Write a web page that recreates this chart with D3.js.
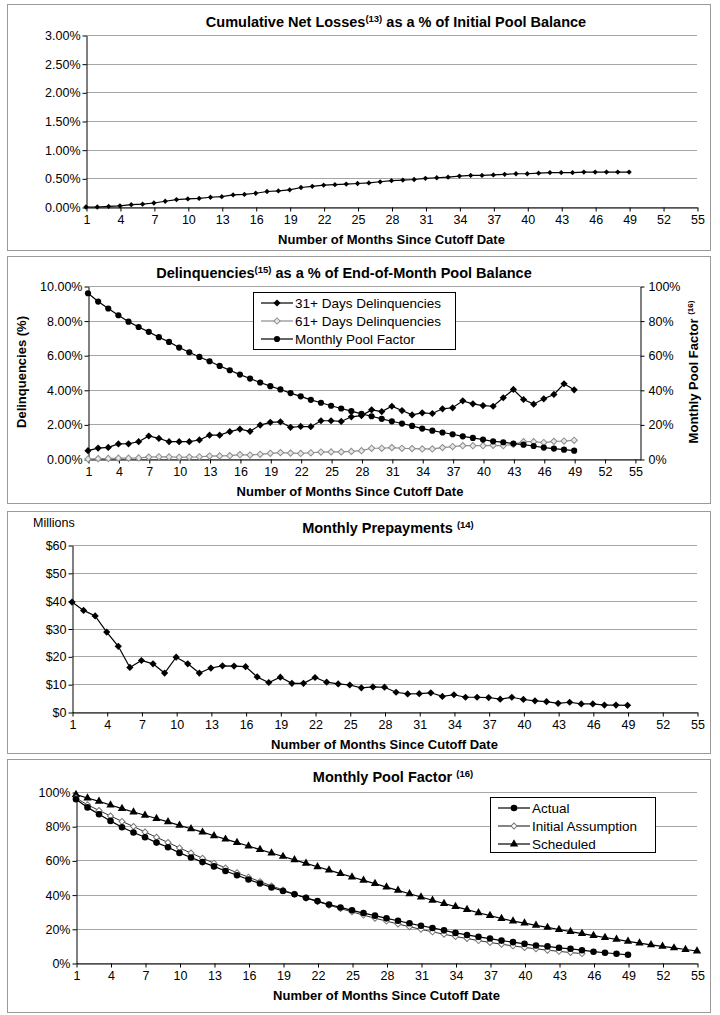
<!DOCTYPE html>
<html>
<head>
<meta charset="utf-8">
<script src="https://cdn.jsdelivr.net/npm/d3@7"></script>
<style>
  body { margin: 0; background: #fff; }
  text { font-family: "Liberation Sans", Arial, sans-serif; fill: #000; }
</style>
</head>
<body>
<div id="chart"></div>
<script>
// x axis labels (months since cutoff)
var xTicks = [1, 4, 7, 10, 13, 16, 19, 22, 25, 28, 31, 34, 37, 40, 43, 46, 49, 52, 55];

// cumulative net losses, % of initial pool balance (months 1-49)
var netLosses = [0.00, 0.00, 0.01, 0.02, 0.04, 0.05, 0.07, 0.10, 0.13, 0.14,
  0.15, 0.17, 0.18, 0.21, 0.22, 0.24, 0.27, 0.28, 0.30, 0.34,
  0.36, 0.38, 0.39, 0.40, 0.41, 0.42, 0.44, 0.46, 0.47, 0.48,
  0.50, 0.51, 0.52, 0.54, 0.55, 0.55, 0.56, 0.57, 0.58, 0.58,
  0.59, 0.60, 0.60, 0.60, 0.61, 0.61, 0.61, 0.61, 0.61];

// delinquencies, % of end-of-month pool balance (months 1-49)
var delinq31 = [0.48, 0.63, 0.67, 0.87, 0.88, 1.00, 1.33, 1.19, 1.00, 1.00,
  1.00, 1.10, 1.38, 1.38, 1.58, 1.73, 1.60, 1.96, 2.12, 2.15,
  1.83, 1.88, 1.87, 2.21, 2.21, 2.17, 2.44, 2.51, 2.84, 2.74,
  3.05, 2.80, 2.55, 2.67, 2.63, 2.90, 2.96, 3.36, 3.19, 3.09,
  3.05, 3.54, 4.02, 3.44, 3.17, 3.48, 3.73, 4.35, 4.00];
var delinq61 = [0.00, 0.02, 0.03, 0.05, 0.05, 0.06, 0.11, 0.13, 0.12, 0.10,
  0.11, 0.13, 0.17, 0.18, 0.19, 0.25, 0.23, 0.27, 0.33, 0.37,
  0.34, 0.32, 0.36, 0.40, 0.41, 0.41, 0.44, 0.48, 0.62, 0.62,
  0.66, 0.62, 0.60, 0.58, 0.58, 0.66, 0.72, 0.77, 0.77, 0.77,
  0.79, 0.77, 0.85, 1.00, 1.00, 0.95, 1.02, 1.04, 1.08];

// monthly pool factor, % (months 1-49)
var poolFactor = [95.8, 91.0, 87.0, 83.1, 79.4, 76.3, 73.5, 70.4, 67.7, 64.4,
  61.7, 59.0, 56.5, 53.8, 51.3, 48.8, 46.5, 44.2, 42.1, 40.2,
  38.1, 36.2, 34.2, 32.5, 30.8, 29.2, 27.7, 26.1, 24.7, 23.2,
  21.8, 20.5, 19.1, 17.6, 16.4, 15.3, 14.3, 13.1, 12.2, 11.2,
  10.2, 9.7, 8.9, 8.3, 7.5, 6.6, 6.0, 5.4, 4.8];

// monthly prepayments, $ millions (months 1-49)
var prepayments = [39.5, 36.5, 34.5, 28.7, 23.6, 16.0, 18.5, 17.3, 14.0, 19.7,
  17.3, 14.0, 15.8, 16.6, 16.5, 16.3, 12.6, 10.6, 12.5, 10.3,
  10.3, 12.4, 10.7, 10.1, 9.7, 8.7, 9.0, 8.9, 7.1, 6.5,
  6.6, 6.9, 5.6, 6.2, 5.3, 5.3, 5.2, 4.6, 5.3, 4.5,
  4.0, 3.7, 3.1, 3.5, 2.9, 2.9, 2.5, 2.5, 2.4];

// pool factor assumptions, % (initial: months 1-45, scheduled: months 1-55)
var initialAssumption = [96.5, 92.5, 89.2, 86.0, 82.8, 79.8, 76.6, 73.5, 70.5, 67.3,
  64.3, 61.3, 58.4, 55.6, 52.8, 50.2, 47.6, 45.1, 42.7, 40.3,
  38.0, 35.9, 33.8, 31.8, 29.9, 28.0, 26.2, 24.5, 22.8, 21.2,
  19.7, 18.2, 16.8, 15.5, 14.3, 13.1, 12.0, 11.0, 10.0, 9.1,
  8.3, 7.5, 6.8, 6.1, 5.5];
var scheduled = [98.5, 96.5, 94.5, 92.4, 90.3, 88.3, 86.4, 84.5, 82.5, 80.5,
  78.5, 76.5, 74.4, 72.4, 70.4, 68.4, 66.3, 64.3, 62.3, 60.3,
  58.3, 56.3, 54.3, 52.3, 50.3, 48.3, 46.4, 44.4, 42.5, 40.5,
  38.6, 36.7, 34.8, 33.0, 31.2, 29.4, 27.7, 26.0, 24.5, 23.3,
  22.0, 20.8, 19.6, 18.4, 17.2, 16.0, 14.9, 13.8, 12.7, 11.6,
  10.6, 9.7, 8.8, 7.9, 7.0];

var svg = d3.select("#chart")
  .append("svg")
    .attr("width", 720)
    .attr("height", 1015);

var gridColor = "#a6a6a6";

// marker shapes
function diamond(size) { return d3.symbol().type(d3.symbolSquare).size(size)(); }
function circle(size) { return d3.symbol().type(d3.symbolCircle).size(size)(); }
function triangle(size) { return d3.symbol().type(d3.symbolTriangle).size(size)(); }

function titleText(g, x, y, main, sup, rest, size) {
  var t = g.append("text")
    .attr("x", x).attr("y", y)
    .attr("text-anchor", "middle")
    .style("font-size", size + "px")
    .style("font-weight", "bold");
  t.append("tspan").text(main);
  t.append("tspan").attr("dy", -5).style("font-size", (size - 5) + "px").text(sup);
  t.append("tspan").attr("dy", 5).text(rest);
  return t;
}

function drawPanel(o) {
  var g = svg.append("g");

  // panel frame
  g.append("rect")
    .attr("x", o.box[0] + 0.5).attr("y", o.box[1] + 0.5)
    .attr("width", o.box[2]).attr("height", o.box[3])
    .attr("fill", "none").attr("stroke", "#9a9a9a");

  var x = d3.scaleLinear().domain([1, o.xMax]).range([o.left, o.right]);
  var y = d3.scaleLinear().domain(o.yDomain).range([o.bottom, o.top]);

  // gridlines
  g.selectAll(".grid")
    .data(o.yTicks)
    .enter()
    .append("line")
      .attr("x1", o.left).attr("x2", o.right)
      .attr("y1", function(d) { return Math.round(y(d)) + 0.5; })
      .attr("y2", function(d) { return Math.round(y(d)) + 0.5; })
      .attr("stroke", gridColor);

  // left axis
  var yAxis = g.append("g")
    .attr("transform", "translate(" + (o.left + 0.5) + ",0.5)")
    .call(d3.axisLeft(y).tickValues(o.yTicks).tickFormat(o.yFormat).tickSize(4).tickSizeOuter(0));
  yAxis.selectAll("text").style("font-size", "12.5px").attr("x", -6);

  // bottom axis
  var xAxis = g.append("g")
    .attr("transform", "translate(0.5," + (o.bottom + 0.5) + ")")
    .call(d3.axisBottom(x).tickValues(xTicks).tickFormat(d3.format("d")).tickSize(4).tickSizeOuter(0));
  xAxis.selectAll("text").style("font-size", "12.5px").attr("y", 8);
  g.selectAll(".domain").attr("stroke", "#000");

  // axis title
  g.append("text")
    .attr("x", (o.left + o.right) / 2 + (o.xTitleShift || 0))
    .attr("y", o.bottom + 37)
    .attr("text-anchor", "middle")
    .style("font-size", "13px")
    .style("font-weight", "bold")
    .text("Number of Months Since Cutoff Date");

  return {g: g, x: x, y: y};
}

function drawSeries(p, yScale, values, st) {
  var line = d3.line()
    .x(function(d, i) { return p.x(i + 1); })
    .y(function(d) { return yScale(d); });
  p.g.append("path")
    .datum(values)
    .attr("fill", "none")
    .attr("stroke", st.stroke)
    .attr("stroke-width", st.width || 1.2)
    .attr("d", line);
  p.g.selectAll(null)
    .data(values)
    .enter()
    .append("path")
      .attr("transform", function(d, i) {
        return "translate(" + p.x(i + 1) + "," + yScale(d) + ")" + (st.rotate ? "rotate(45)" : "");
      })
      .attr("d", st.shape)
      .attr("fill", st.fill)
      .attr("stroke", st.markStroke || "none")
      .attr("stroke-width", 1);
}

function drawLegend(g, bx, by, bw, bh, items) {
  g.append("rect")
    .attr("x", bx + 0.5).attr("y", by + 0.5)
    .attr("width", bw).attr("height", bh)
    .attr("fill", "#fff").attr("stroke", "#000");
  items.forEach(function(it, i) {
    var cy = by + 11 + i * 18;
    g.append("line")
      .attr("x1", bx + 8).attr("x2", bx + 40)
      .attr("y1", cy).attr("y2", cy)
      .attr("stroke", it.st.stroke).attr("stroke-width", 1.2);
    g.append("path")
      .attr("transform", "translate(" + (bx + 24) + "," + cy + ")" + (it.st.rotate ? "rotate(45)" : ""))
      .attr("d", it.st.shape)
      .attr("fill", it.st.fill)
      .attr("stroke", it.st.markStroke || "none");
    g.append("text")
      .attr("x", bx + 42).attr("y", cy)
      .attr("dy", "0.36em")
      .style("font-size", "13.5px")
      .text(it.label);
  });
}

var pctFmt = function(d) { return d3.format(".2f")(d) + "%"; };
var intPct = function(d) { return d + "%"; };

// ---- Panel 1: cumulative net losses
var p1 = drawPanel({
  box: [7, 4, 703, 246], left: 86, right: 697, top: 35, bottom: 207,
  xMax: 55, yDomain: [0, 3], yTicks: [0, 0.5, 1, 1.5, 2, 2.5, 3], yFormat: pctFmt
});
titleText(p1.g, 396, 27, "Cumulative Net Losses", "(13)", " as a % of Initial Pool Balance", 14.5);
drawSeries(p1, p1.y, netLosses, {stroke: "#000", shape: diamond(14), fill: "#000", rotate: true});

// ---- Panel 2: delinquencies + pool factor
var p2 = drawPanel({
  box: [7, 256, 703, 247], left: 88, right: 640, top: 286, bottom: 459,
  xMax: 55.5, yDomain: [0, 10], yTicks: [0, 2, 4, 6, 8, 10], yFormat: pctFmt, xTitleShift: -14
});
var yRight = d3.scaleLinear().domain([0, 100]).range([459, 286]);
var rAxis = p2.g.append("g")
  .attr("transform", "translate(640.5,0.5)")
  .call(d3.axisRight(yRight).tickValues([0, 20, 40, 60, 80, 100]).tickFormat(intPct).tickSize(4).tickSizeOuter(0));
rAxis.selectAll("text").style("font-size", "12.5px").attr("x", 8);
rAxis.select(".domain").attr("stroke", "#000");
titleText(p2.g, 344, 278, "Delinquencies", "(15)", " as a % of End-of-Month Pool Balance", 14.5);
p2.g.append("text")
  .attr("transform", "translate(26,372)rotate(-90)")
  .attr("text-anchor", "middle")
  .style("font-size", "13px").style("font-weight", "bold")
  .text("Delinquencies (%)");
var rt = p2.g.append("text")
  .attr("transform", "translate(698,372)rotate(-90)")
  .attr("text-anchor", "middle")
  .style("font-size", "13px").style("font-weight", "bold");
rt.append("tspan").text("Monthly Pool Factor ");
rt.append("tspan").attr("dy", -5).style("font-size", "8px").text("(16)");

var st31 = {stroke: "#000", shape: diamond(26), fill: "#000", rotate: true};
var st61 = {stroke: "#8c8c8c", shape: diamond(20), fill: "#e6e6e6", markStroke: "#8c8c8c", rotate: true};
var stPF = {stroke: "#000", shape: circle(30), fill: "#000"};
drawSeries(p2, p2.y, delinq61, st61);
drawSeries(p2, yRight, poolFactor, stPF);
drawSeries(p2, p2.y, delinq31, st31);
drawLegend(p2.g, 253, 292, 202, 57, [
  {label: "31+ Days Delinquencies", st: st31},
  {label: "61+ Days Delinquencies", st: st61},
  {label: "Monthly Pool Factor", st: stPF}
]);

// ---- Panel 3: monthly prepayments
var p3 = drawPanel({
  box: [7, 511, 703, 242], left: 72, right: 697, top: 545, bottom: 712,
  xMax: 55, yDomain: [0, 60], yTicks: [0, 10, 20, 30, 40, 50, 60], yFormat: function(d) { return "$" + d; }
});
titleText(p3.g, 388, 533, "Monthly Prepayments ", "(14)", "", 14.5);
p3.g.append("text").attr("x", 33).attr("y", 527).style("font-size", "12.5px").text("Millions");
drawSeries(p3, p3.y, prepayments, {stroke: "#000", shape: diamond(26), fill: "#000", rotate: true});

// ---- Panel 4: monthly pool factor
var p4 = drawPanel({
  box: [7, 759, 703, 253], left: 76, right: 697, top: 792, bottom: 963,
  xMax: 55, yDomain: [0, 100], yTicks: [0, 20, 40, 60, 80, 100], yFormat: intPct
});
titleText(p4.g, 393, 782, "Monthly Pool Factor ", "(16)", "", 14.5);
var stAct = {stroke: "#000", shape: circle(34), fill: "#000"};
var stIni = {stroke: "#333", shape: diamond(18), fill: "#fff", markStroke: "#777", rotate: true, width: 1};
var stSch = {stroke: "#000", shape: triangle(30), fill: "#000"};
drawSeries(p4, p4.y, scheduled, stSch);
drawSeries(p4, p4.y, initialAssumption, stIni);
drawSeries(p4, p4.y, poolFactor, stAct);
drawLegend(p4.g, 490, 797, 165, 55, [
  {label: "Actual", st: stAct},
  {label: "Initial Assumption", st: stIni},
  {label: "Scheduled", st: stSch}
]);
</script>
</body>
</html>
